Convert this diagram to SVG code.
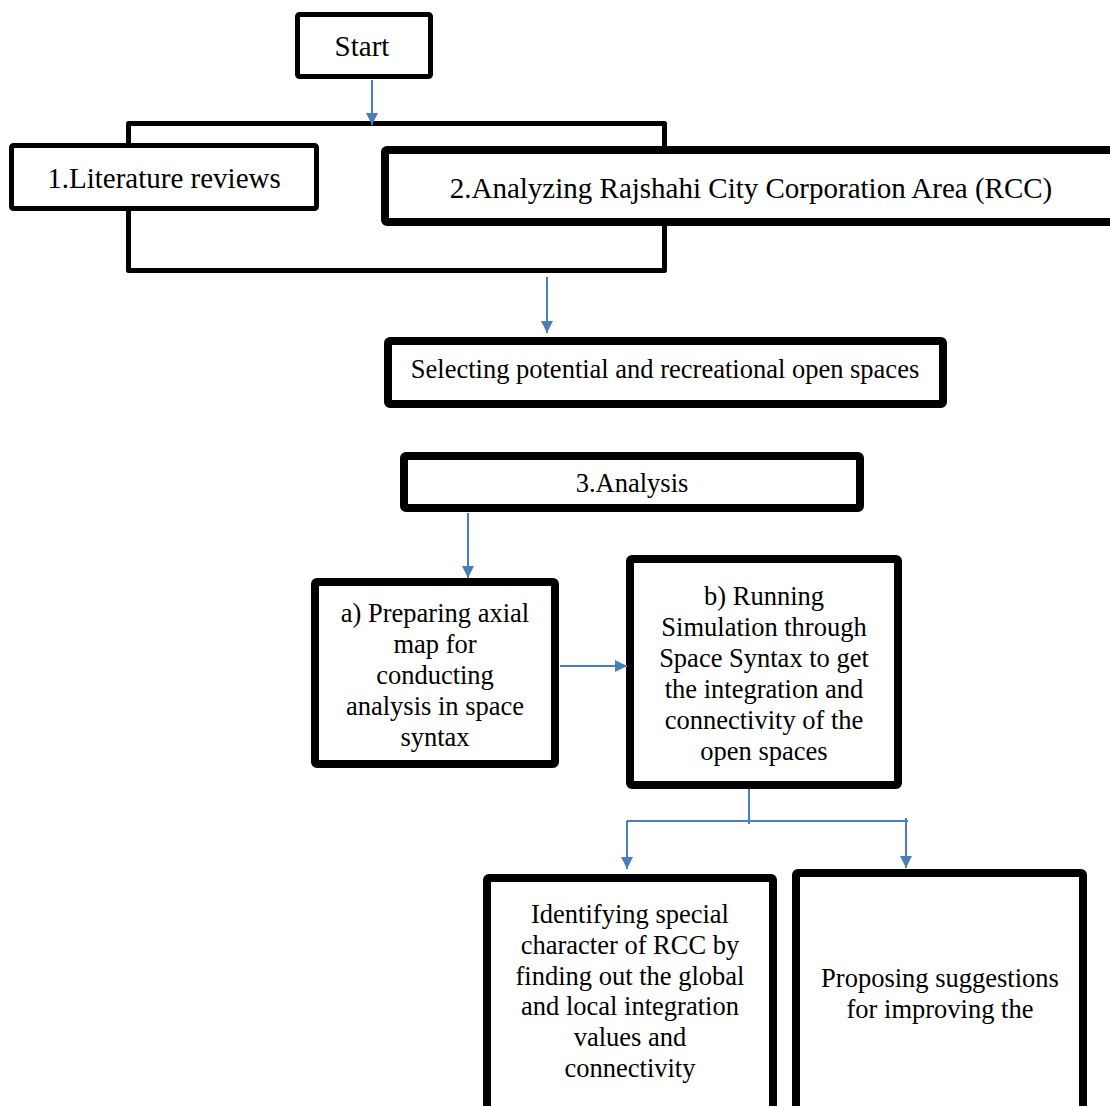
<svg xmlns="http://www.w3.org/2000/svg" width="1110" height="1106" viewBox="0 0 1110 1106">
<defs>
<marker id="ah" viewBox="0 0 10 10" refX="10" refY="5" markerWidth="6" markerHeight="7" markerUnits="strokeWidth" orient="auto">
<path d="M0,0 L10,5 L0,10 z" fill="#4A7EBB"/>
</marker>
</defs>
<style>
.box{fill:#fff;stroke:#000;stroke-linejoin:round}
.thin{stroke-width:5}
.thick{stroke-width:8}
.t{font-family:"Liberation Serif","Times New Roman",serif;font-size:26.5px;fill:#000;text-anchor:middle}
.big{font-size:29px}
.c{stroke:#4A7EBB;stroke-width:2;fill:none}
</style>
<rect width="1110" height="1106" fill="#fff"/>
<g id="frame"><rect class="box thin" x="128.5" y="123.5" width="536" height="147"/></g>
<g id="start"><rect class="box thin" x="297.5" y="14.5" width="133" height="62" rx="2"/><text class="t big" x="362" y="56">Start</text></g>
<g id="literature"><rect class="box thin" x="11.5" y="145.5" width="305" height="63" rx="2"/><text class="t big" x="164" y="188">1.Literature reviews</text></g>
<g id="analyzing"><rect class="box thick" x="385" y="150" width="740" height="72" rx="2"/><text class="t big" x="751" y="198">2.Analyzing Rajshahi City Corporation Area (RCC)</text></g>
<g id="selecting"><rect class="box thick" x="388" y="341" width="555" height="63" rx="2"/><text class="t" x="665" y="378">Selecting potential and recreational open spaces</text></g>
<g id="analysis"><rect class="box thick" x="404" y="456" width="456" height="52" rx="2"/><text class="t" x="632" y="492">3.Analysis</text></g>
<g id="prep"><rect class="box thick" x="315" y="582" width="240" height="182" rx="2"/>
<text class="t"><tspan x="435" y="622">a) Preparing axial</tspan><tspan x="435" y="653">map for</tspan><tspan x="435" y="684">conducting</tspan><tspan x="435" y="715">analysis in space</tspan><tspan x="435" y="746">syntax</tspan></text></g>
<g id="running"><rect class="box thick" x="630" y="559" width="268" height="226" rx="2"/>
<text class="t"><tspan x="764" y="605">b) Running</tspan><tspan x="764" y="636">Simulation through</tspan><tspan x="764" y="667">Space Syntax to get</tspan><tspan x="764" y="698">the integration and</tspan><tspan x="764" y="729">connectivity of the</tspan><tspan x="764" y="760">open spaces</tspan></text></g>
<g id="identifying"><rect class="box thick" x="487" y="878" width="286" height="240" rx="2"/>
<text class="t"><tspan x="630" y="923">Identifying special</tspan><tspan x="630" y="954">character of RCC by</tspan><tspan x="630" y="985">finding out the global</tspan><tspan x="630" y="1015">and local integration</tspan><tspan x="630" y="1046">values and</tspan><tspan x="630" y="1077">connectivity</tspan></text></g>
<g id="proposing"><rect class="box thick" x="796" y="873" width="287" height="250" rx="2"/>
<text class="t"><tspan x="940" y="987">Proposing suggestions</tspan><tspan x="940" y="1018">for improving the</tspan></text></g>
<g id="connectors">
<line class="c" x1="372" y1="80" x2="372" y2="125" marker-end="url(#ah)"/>
<line class="c" x1="547" y1="277" x2="547" y2="333" marker-end="url(#ah)"/>
<line class="c" x1="468" y1="513" x2="468" y2="578" marker-end="url(#ah)"/>
<line class="c" x1="560" y1="666" x2="627" y2="666" marker-end="url(#ah)"/>
<line class="c" x1="749" y1="789" x2="749" y2="824"/>
<line class="c" x1="627" y1="821" x2="908" y2="821"/>
<line class="c" x1="627" y1="821" x2="627" y2="869" marker-end="url(#ah)"/>
<line class="c" x1="906" y1="818" x2="906" y2="868" marker-end="url(#ah)"/>
</g>
</svg>
